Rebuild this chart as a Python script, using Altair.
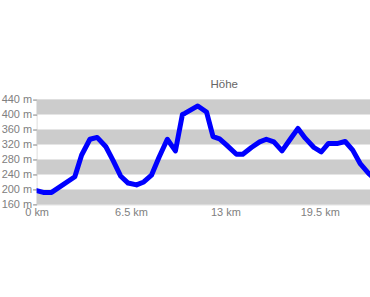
import altair as alt
import pandas as pd

km = [0, 0.46, 1.03, 2.63, 3.1, 3.67, 4.17, 4.77, 5.27, 5.78, 6.3, 6.88, 7.38, 7.91,
      8.43, 9.0, 9.56, 10.04, 10.2, 11.1, 11.7, 12.15, 12.6, 13.07, 13.76, 14.2,
      14.79, 15.36, 15.82, 16.34, 16.9, 17.5, 18.0, 18.5, 19.1, 19.6, 20.1, 20.75,
      21.25, 21.77, 22.3, 22.88, 23.3]
hoehe = [197, 192, 192, 234, 292, 334, 339, 314, 277, 236, 217, 212, 220, 238,
         286, 334, 303, 400, 403, 423, 407, 341, 335, 319, 294, 294,
         312, 327, 334, 327, 303, 336, 363, 337, 312, 300, 323, 323,
         328, 305, 268, 242, 228]
band_lo = [160, 240, 320, 400]
band_hi = [200, 280, 360, 440]
y_ticks = [160, 200, 240, 280, 320, 360, 400, 440]
x_ticks = [0, 6.5, 13, 19.5]

FONT = "Liberation Sans"
GRAY = "#808080"

line_df = pd.DataFrame({"km": km, "h": hoehe})
band_df = pd.DataFrame({"lo": band_lo, "hi": band_hi})

yscale = alt.Scale(domain=[160, 440], nice=False, zero=False)
xscale = alt.Scale(domain=[0, 22.96], nice=False, zero=True)

yaxis = alt.Axis(
    title=None, values=y_ticks, labelExpr="datum.value + ' m'",
    domain=False, grid=False, tickSize=4, tickColor=GRAY, labelColor=GRAY,
    labelFont=FONT, labelFontSize=11, labelPadding=1,
    labelOverlap=False, labelFlush=False)
xaxis = alt.Axis(
    title=None, values=x_ticks, labelExpr="datum.value + ' km'",
    domain=False, grid=False, ticks=False, labelColor=GRAY,
    labelFont=FONT, labelFontSize=11, labelPadding=2, labelFlush=False,
    labelOverlap=False)

bands = alt.Chart(band_df).mark_rect(color="#cccccc").encode(
    y=alt.Y("lo:Q", scale=yscale, axis=yaxis),
    y2="hi:Q",
)

line = alt.Chart(line_df).mark_line(
    color="#0000ff", strokeWidth=5, strokeJoin="round", strokeCap="round", clip=True
).encode(
    x=alt.X("km:Q", scale=xscale, axis=xaxis),
    y=alt.Y("h:Q", scale=yscale, axis=yaxis),
)

chart = alt.layer(bands, line).properties(
    width=334,
    height=105,
    title=alt.TitleParams("Höhe", font=FONT, fontSize=11.5, fontWeight="normal",
                          color="#666666", dx=21, offset=3),
    autosize=alt.AutoSizeParams(type="none"),
    padding={"left": 36.7, "top": 99.5, "right": 0, "bottom": 92},
).configure_view(stroke=None).configure(background="white")

chart.save("out.html", embed_options={"renderer": "svg", "actions": False})
